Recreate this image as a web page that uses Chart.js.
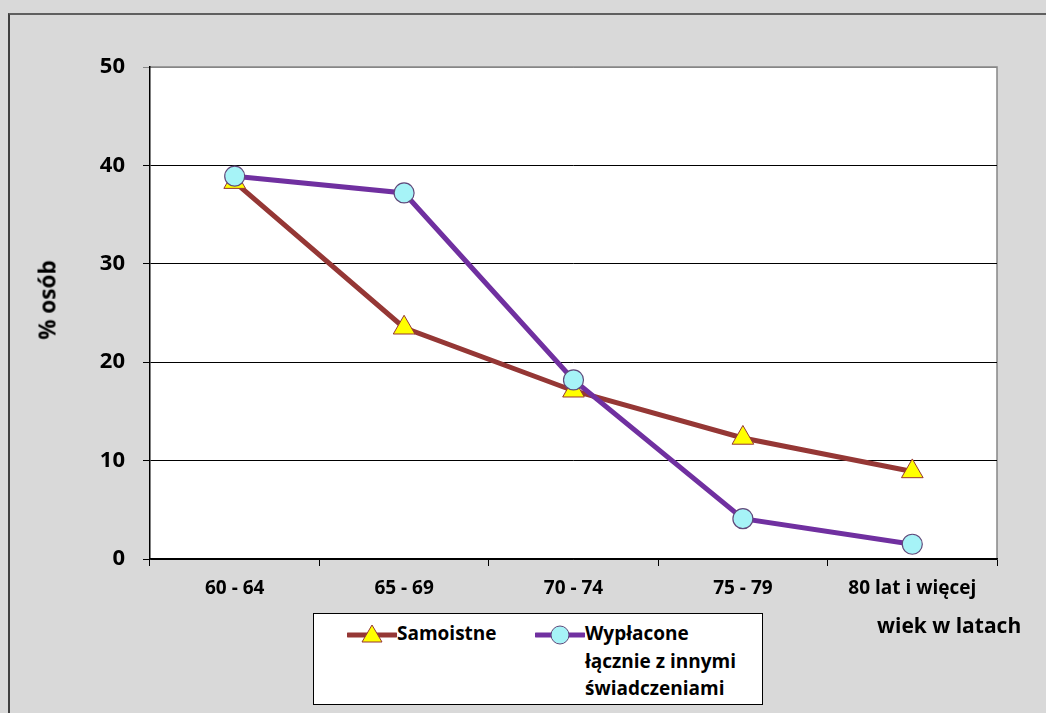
<!DOCTYPE html>
<html>
<head>
<meta charset="utf-8">
<script src="https://cdn.jsdelivr.net/npm/chart.js@4"></script>
<style>
  html, body { margin: 0; padding: 0; background: #d9d9d9; }
  #wrap { position: relative; width: 1046px; height: 713px; overflow: hidden; font-family: "Open Sans", sans-serif; font-weight: bold; color: #000; }
  #frame { position: absolute; left: 8px; top: 13px; width: 1100px; height: 800px; border-top: 2px solid #5f5f5f; border-left: 2px solid #3f3f3f; }
  canvas { position: absolute; left: 0; top: 0; }
  .ytitle { position: absolute; left: 47px; top: 300px; transform: translate(-50%, -50%) rotate(-90deg); font-size: 22.5px; white-space: nowrap; }
  .xtitle { position: absolute; left: 877px; top: 611px; font-size: 21px; white-space: nowrap; }
  #legend { position: absolute; left: 313px; top: 613px; width: 448px; height: 90px; background: #fff; border: 1px solid #000; font-size: 19px; }
  .item { position: absolute; top: 6px; display: flex; align-items: flex-start; }
  .item svg { flex: none; margin-top: 3px; }
  .item span { line-height: 27.5px; }
</style>
</head>
<body>
<div id="wrap">
  <div id="frame"></div>
  <canvas id="myChart" width="1046" height="713"></canvas>
  <div class="ytitle">% osób</div>
  <div class="xtitle">wiek w latach</div>
  <div id="legend">
    <div class="item" style="left:33px;">
      <svg width="50" height="24"><line x1="1" y1="12" x2="49" y2="12" stroke="#953735" stroke-width="5" stroke-linecap="round"/><polygon points="25,2 35,19 15,19" fill="#ffff00" stroke="#953735" stroke-width="1"/></svg>
      <span>Samoistne</span>
    </div>
    <div class="item" style="left:221px;">
      <svg width="50" height="24"><line x1="1" y1="12" x2="49" y2="12" stroke="#7030a0" stroke-width="5" stroke-linecap="round"/><circle cx="25" cy="12" r="9" fill="#a6f3f7" stroke="#604a7b" stroke-width="1"/></svg>
      <span>Wypłacone<br>łącznie z innymi<br>świadczeniami</span>
    </div>
  </div>
</div>
<script>
// age groups and shares of persons (%)
const categories = ['60 - 64', '65 - 69', '70 - 74', '75 - 79', '80 lat i więcej'];
const samoistne = [38.3, 23.5, 17.1, 12.3, 8.9];
const wyplacone = [38.9, 37.2, 18.2, 4.1, 1.5];
const yTicks = [0, 10, 20, 30, 40, 50];

Chart.defaults.font.family = '"Open Sans", sans-serif';
Chart.defaults.font.weight = 'bold';
Chart.defaults.color = '#000';

// white plot area with grey frame on top/right
const plotArea = {
    id: 'plotArea',
    beforeDraw(chart) {
        const a = chart.chartArea;
        const ctx = chart.ctx;
        ctx.save();
        ctx.fillStyle = '#fff';
        ctx.fillRect(a.left, a.top, a.right - a.left, a.bottom - a.top);
        ctx.strokeStyle = '#868686';
        ctx.lineWidth = 1.5;
        ctx.beginPath();
        ctx.moveTo(a.left, a.top);
        ctx.lineTo(a.right, a.top);
        ctx.lineTo(a.right, a.bottom);
        ctx.stroke();
        ctx.restore();
    }
};

new Chart(document.getElementById('myChart').getContext('2d'), {
    type: 'line',
    data: {
        labels: categories,
        datasets: [
            {
                label: 'Samoistne',
                data: samoistne,
                borderColor: '#953735',
                borderWidth: 5,
                pointStyle: 'triangle',
                pointRadius: 12.5,
                pointBackgroundColor: '#ffff00',
                pointBorderColor: '#953735',
                pointBorderWidth: 1,
                tension: 0,
                order: 1
            },
            {
                label: 'Wypłacone łącznie z innymi świadczeniami',
                data: wyplacone,
                borderColor: '#7030a0',
                borderWidth: 5,
                pointStyle: 'circle',
                pointRadius: 10,
                pointBackgroundColor: '#a6f3f7',
                pointBorderColor: '#604a7b',
                pointBorderWidth: 1.2,
                tension: 0,
                order: 0
            }
        ]
    },
    options: {
        responsive: false,
        animation: false,
        layout: { padding: { top: 67, right: 49, left: 0, bottom: 0 } },
        plugins: {
            legend: { display: false },
            tooltip: { enabled: false }
        },
        scales: {
            x: {
                offset: true,
                afterFit(scale) { scale.height = 154; },
                grid: {
                    offset: true,
                    drawOnChartArea: false,
                    tickLength: 7,
                    color: '#000'
                },
                border: { color: '#000', width: 1.5 },
                ticks: { padding: 11, font: { size: 19, weight: 'bold' }, maxRotation: 0 }
            },
            y: {
                min: 0,
                max: 50,
                afterFit(scale) { scale.width = 150; },
                afterBuildTicks(scale) { scale.ticks = yTicks.map(v => ({ value: v })); },
                grid: {
                    tickLength: 7,
                    color: ctx => (ctx.tick && ctx.tick.value === 50 ? '#868686' : '#000')
                },
                border: { color: '#000', width: 1.5 },
                ticks: { padding: 18, font: { size: 22, weight: 'bold' } }
            }
        }
    },
    plugins: [plotArea]
});
</script>
</body>
</html>
